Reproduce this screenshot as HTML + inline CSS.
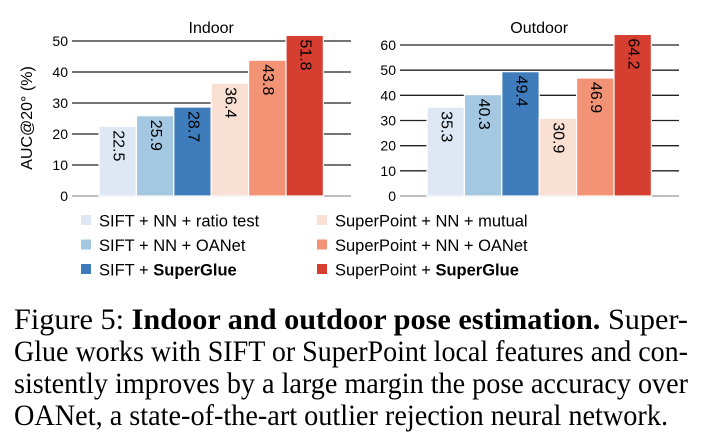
<!DOCTYPE html>
<html><head><meta charset="utf-8"><style>
html,body{margin:0;padding:0;background:#fff;}
svg{display:block;font-family:"Liberation Sans",Arial,sans-serif;}
.cap{font-family:"Liberation Serif","Times New Roman",serif;}
</style></head><body>
<svg id="chart" width="726" height="441" xmlns="http://www.w3.org/2000/svg">
<g id="indoor"></g>
<g id="outdoor"></g>
<text x="32" y="118" font-size="16" text-anchor="middle" transform="rotate(-90 32 118)">AUC@20° (%)</text>
<g id="legend"></g>
<g class="cap" font-size="29.5" fill="#000">
<text x="14" y="329" textLength="674" lengthAdjust="spacingAndGlyphs">Figure 5:  <tspan font-weight="bold">Indoor and outdoor pose estimation.</tspan>  Super-</text>
<text x="14" y="361" textLength="674" lengthAdjust="spacingAndGlyphs">Glue works with SIFT or SuperPoint local features and con-</text>
<text x="14" y="393" textLength="674" lengthAdjust="spacingAndGlyphs">sistently improves by a large margin the pose accuracy over</text>
<text x="14" y="425" textLength="654" lengthAdjust="spacingAndGlyphs">OANet, a state-of-the-art outlier rejection neural network.</text>
</g>
</svg>
<script>
const methods = ["SIFT + NN + ratio test","SIFT + NN + OANet","SIFT + SuperGlue","SuperPoint + NN + mutual","SuperPoint + NN + OANet","SuperPoint + SuperGlue"];
const indoorValues = [22.5, 25.9, 28.7, 36.4, 43.8, 51.8];
const outdoorValues = [35.3, 40.3, 49.4, 30.9, 46.9, 64.2];
const indoorTicks = [0, 10, 20, 30, 40, 50];
const outdoorTicks = [0, 10, 20, 30, 40, 50, 60];
const colors = ["#dee8f4","#a4c8e1","#3f7cbb","#fadfd3","#f29375","#d63e30"];
const NS = "http://www.w3.org/2000/svg";
function mk(tag, attrs, parent){const e=document.createElementNS(NS,tag);for(const k in attrs)e.setAttribute(k,attrs[k]);parent.appendChild(e);return e;}
function panel(g, title, values, ticks, cfg){
  const y = v => cfg.y0 - v * (cfg.y0 - cfg.yTop) / cfg.tMax;
  ticks.forEach(t=>{
    const l = mk("line",{x1:cfg.x0,x2:cfg.x1,y1:y(t),y2:y(t),stroke:t===0?"#999":"#222","stroke-width":1.3},g);
    
    
    const tx = mk("text",{x:cfg.x0-4,y:y(t)+5,"font-size":14,"text-anchor":"end"},g);
    tx.textContent=t;
    
    
  });
  const tt = mk("text",{x:(cfg.bx+cfg.bw*3),y:33,"font-size":16,"text-anchor":"middle"},g);
  tt.textContent=title;
  
  
  values.forEach((v,i)=>{
    const x = cfg.bx + i*cfg.bw;
    const r = mk("rect",{x:x,y:y(v),width:cfg.bw,height:cfg.y0-y(v),fill:colors[i],stroke:"#fff","stroke-width":1.2},g);
    
    
    const cx = x+cfg.bw/2, cy = y(v)+4;
    const lb = mk("text",{x:cx,y:cy,"font-size":16,transform:`rotate(90 ${cx} ${cy})`,"dominant-baseline":"middle"},g);
    lb.textContent=v.toFixed(1);
    
    
  });
}
panel(document.getElementById("indoor"),"Indoor",indoorValues,indoorTicks,{x0:72,x1:351,y0:196,yTop:41,tMax:50,bx:99,bw:37.4});
panel(document.getElementById("outdoor"),"Outdoor",outdoorValues,outdoorTicks,{x0:400,x1:679,y0:196,yTop:45,tMax:60,bx:427,bw:37.4});
const lg=document.getElementById("legend");
methods.forEach((m,i)=>{
  const col=Math.floor(i/3), row=i%3;
  const x = col?317:81, yy = 221+row*24.5;
  const s=mk("rect",{x:x,y:yy-6,width:10,height:10,fill:colors[i]},lg);
  
  
  const t=mk("text",{x:x+18,y:yy+5.5,"font-size":16.5},lg);
  
  
  if(m.endsWith("SuperGlue")){
    t.appendChild(document.createTextNode(m.replace("SuperGlue","")));
    const b=mk("tspan",{"font-weight":"bold"},t); b.textContent="SuperGlue";
  } else t.textContent=m;
});
</script>
</body></html>
